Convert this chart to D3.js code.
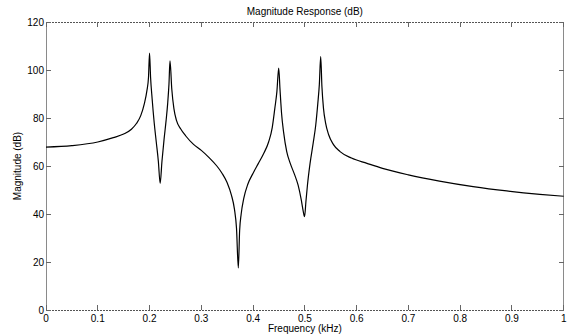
<!DOCTYPE html>
<html><head><meta charset="utf-8">
<script src="https://cdn.jsdelivr.net/npm/d3@7"></script>
<style>body{margin:0;background:#fff}svg{display:block}text{font-family:"Liberation Sans",Arial,sans-serif;fill:#000}</style>
</head><body>
<script>
const freq = [0.000,0.050,0.100,0.130,0.150,0.165,0.175,0.183,0.190,0.195,0.198,0.200,0.202,0.205,0.209,0.213,0.217,0.2205,0.224,0.228,0.232,0.235,0.2375,0.2395,0.243,0.247,0.252,0.260,0.270,0.285,0.300,0.315,0.330,0.340,0.350,0.358,0.364,0.368,0.3715,0.374,0.377,0.382,0.390,0.400,0.410,0.420,0.430,0.437,0.442,0.446,0.4495,0.452,0.455,0.459,0.465,0.472,0.480,0.487,0.493,0.497,0.4995,0.502,0.505,0.510,0.516,0.521,0.525,0.528,0.5306,0.533,0.536,0.540,0.546,0.555,0.568,0.590,0.620,0.650,0.700,0.760,0.825,0.890,0.954,1.000];
const magDb = [67.9,68.5,70.0,71.8,73.3,75.3,77.8,81.0,86.0,91.5,97.0,107.0,97.0,88.0,78.0,70.0,62.0,52.8,62.0,71.0,79.0,86.0,94.0,103.8,92.0,84.0,79.0,75.5,72.5,69.0,66.5,63.5,60.0,57.0,53.0,48.0,42.0,34.0,17.5,33.0,40.0,46.5,52.5,57.0,61.0,65.0,70.0,76.0,84.0,91.0,100.8,92.0,82.0,74.0,66.0,61.0,56.5,52.0,46.0,41.0,38.9,45.0,52.0,61.0,69.4,77.0,86.0,94.0,105.6,93.0,84.0,78.0,73.0,69.0,66.0,63.3,61.1,59.0,56.3,53.7,51.4,49.6,48.2,47.4];
const xTicks = [0,0.1,0.2,0.3,0.4,0.5,0.6,0.7,0.8,0.9,1];
const yTicks = [0,20,40,60,80,100,120];
const titleText = "Magnitude Response (dB)";
const xLabel = "Frequency (kHz)";
const yLabel = "Magnitude (dB)";

const W = 569, H = 336;
const m = {left:46, right:5.3, top:22, bottom:26};
const svg = d3.select("body").append("svg").attr("width",W).attr("height",H);
const x = d3.scaleLinear().domain([0,1]).range([m.left, W-m.right]);
const y = d3.scaleLinear().domain([0,120]).range([H-m.bottom, m.top]);
const x0 = x(0), x1 = x(1), y0 = y(0), y1 = y(120);
const tl = 5;

const g = svg.append("g").attr("shape-rendering","crispEdges");
g.append("line").attr("x1",x0).attr("x2",x0).attr("y1",y1).attr("y2",y0).attr("stroke","#8a8a8a");
g.append("line").attr("x1",x1).attr("x2",x1).attr("y1",y1).attr("y2",y0).attr("stroke","#8a8a8a");
g.append("line").attr("x1",x0).attr("x2",x1).attr("y1",y1).attr("y2",y1).attr("stroke","#555").attr("stroke-dasharray","2,1");
g.append("line").attr("x1",x0).attr("x2",x1).attr("y1",y0).attr("y2",y0).attr("stroke","#555").attr("stroke-dasharray","2,1");

xTicks.forEach(t=>{
  g.append("line").attr("x1",x(t)).attr("x2",x(t)).attr("y1",y0).attr("y2",y0-tl).attr("stroke","#666");
  g.append("line").attr("x1",x(t)).attr("x2",x(t)).attr("y1",y1).attr("y2",y1+tl).attr("stroke","#666");
  svg.append("text").attr("x",x(t)).attr("y",y0+12).attr("text-anchor","middle").attr("font-size",10).text(d3.format("")(t));
});
yTicks.forEach(t=>{
  g.append("line").attr("x1",x0).attr("x2",x0+tl).attr("y1",y(t)).attr("y2",y(t)).attr("stroke","#666");
  g.append("line").attr("x1",x1).attr("x2",x1-tl).attr("y1",y(t)).attr("y2",y(t)).attr("stroke","#666");
  svg.append("text").attr("x",x0-2).attr("y",y(t)+3.5).attr("text-anchor","end").attr("font-size",10).text(t);
});

const data = freq.map((f,i)=>[f,magDb[i]]);
svg.append("path").datum(data)
  .attr("fill","none").attr("stroke","#000").attr("stroke-width",1.2)
  .attr("d", d3.line().x(d=>x(d[0])).y(d=>y(d[1])).curve(d3.curveMonotoneX));

svg.append("text").attr("x",(x0+x1)/2).attr("y",15).attr("text-anchor","middle").attr("font-size",10).text(titleText);
svg.append("text").attr("x",(x0+x1)/2).attr("y",332).attr("text-anchor","middle").attr("font-size",10).text(xLabel);
svg.append("text").attr("transform",`translate(21,${(y0+y1)/2}) rotate(-90)`).attr("text-anchor","middle").attr("font-size",10).text(yLabel);
</script>
</body></html>
